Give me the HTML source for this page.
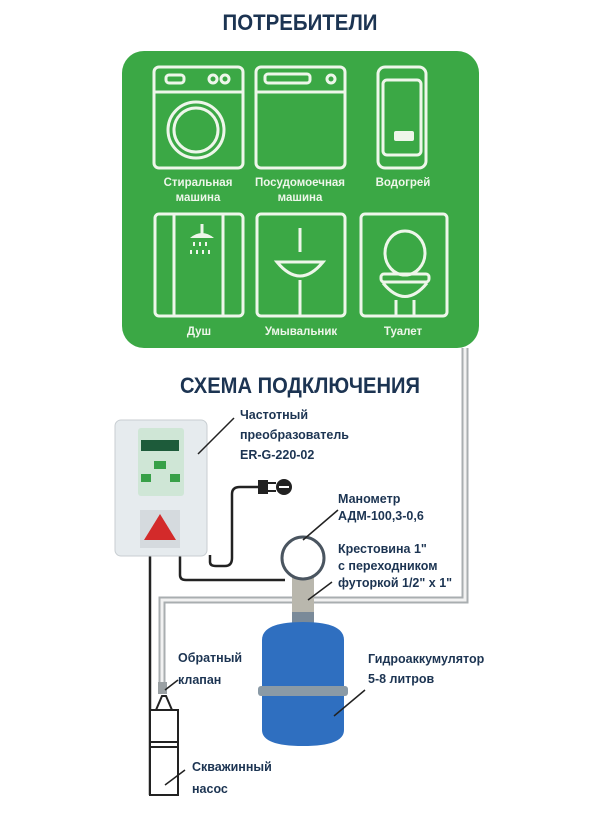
<!DOCTYPE html>
<html><head><meta charset="utf-8"><style>
body{margin:0;background:#fff;}
svg{display:block}
text{font-family:"Liberation Sans",sans-serif;font-weight:bold;}
</style></head><body>
<svg width="608" height="821" viewBox="0 0 608 821" xmlns="http://www.w3.org/2000/svg">
<rect width="608" height="821" fill="#fff"/>
<text x="300" y="30" text-anchor="middle" font-size="22" fill="#1c3452" textLength="155" lengthAdjust="spacingAndGlyphs">ПОТРЕБИТЕЛИ</text>
<rect x="122" y="51" width="357" height="297" rx="22" fill="#3ba845"/>
<g fill="none" stroke="#eef6ea" stroke-width="3">
<rect x="154" y="67" width="89" height="101" rx="5"/>
<line x1="154" y1="92" x2="243" y2="92"/>
<rect x="166" y="75" width="18" height="8" rx="3"/>
<circle cx="213" cy="79" r="4"/><circle cx="225" cy="79" r="4"/>
<circle cx="196" cy="130" r="28"/><circle cx="196" cy="130" r="22"/>
<rect x="256" y="67" width="89" height="101" rx="5"/>
<line x1="256" y1="92" x2="345" y2="92"/>
<rect x="265" y="74" width="45" height="9" rx="3"/>
<circle cx="331" cy="79" r="4"/>
<rect x="378" y="67" width="48" height="101" rx="7"/>
<rect x="383" y="80" width="38" height="75" rx="4"/>
<rect x="155" y="214" width="88" height="102" rx="4"/>
<line x1="174" y1="214" x2="174" y2="316"/><line x1="223" y1="214" x2="223" y2="316"/>
<rect x="257" y="214" width="88" height="102" rx="4"/>
<path d="M277 262 Q300 290 323 262 Z"/>
<line x1="300" y1="280" x2="300" y2="316"/>
<line x1="300" y1="228" x2="300" y2="252"/>
<rect x="361" y="214" width="86" height="102" rx="4"/>
<ellipse cx="405" cy="253" rx="20" ry="22"/>
<rect x="381" y="274" width="48" height="8" rx="3"/>
<path d="M383 283 Q405 310 427 283"/>
<line x1="396" y1="300" x2="396" y2="316"/><line x1="414" y1="300" x2="414" y2="316"/>
</g>
<rect x="394" y="131" width="20" height="10" rx="2" fill="#eef6ea"/>
<path d="M190 238 q12 -10 24 0 z" fill="#eef6ea"/>
<line x1="202" y1="224" x2="202" y2="238" stroke="#eef6ea" stroke-width="3"/>
<g fill="#eef6ea">
<rect x="193" y="242" width="2" height="4"/><rect x="199" y="242" width="2" height="4"/><rect x="205" y="242" width="2" height="4"/>
<rect x="190" y="250" width="2" height="4"/><rect x="196" y="250" width="2" height="4"/><rect x="202" y="250" width="2" height="4"/><rect x="208" y="250" width="2" height="4"/>
</g>
<g fill="#eef6ea" font-size="11.5" text-anchor="middle">
<text x="198" y="186">Стиральная</text><text x="198" y="201">машина</text>
<text x="300" y="186">Посудомоечная</text><text x="300" y="201">машина</text>
<text x="403" y="186">Водогрей</text>
<text x="199" y="335">Душ</text><text x="301" y="335">Умывальник</text><text x="403" y="335">Туалет</text>
</g>
<text x="300" y="393" text-anchor="middle" font-size="22" fill="#1c3452" textLength="240" lengthAdjust="spacingAndGlyphs">СХЕМА ПОДКЛЮЧЕНИЯ</text>
<g fill="none" stroke="#a9aeb0" stroke-width="7">
<path d="M465 348 V600 H162 V690"/>
</g>
<g fill="none" stroke="#f2f2f2" stroke-width="3">
<path d="M465 348 V600 H162 V690"/>
</g>
<g fill="none" stroke="#222" stroke-width="2.5">
<path d="M150 555 V795"/>
<path d="M180 555 V575 Q180 580 186 580 H285"/>
<path d="M210 555 V562 Q210 566 216 566 H225 Q232 566 232 558 V494 Q232 487 240 487 H258"/>
</g>
<path d="M258 480 h10 v14 h-10 z" fill="#222"/>
<line x1="268" y1="483" x2="276" y2="483" stroke="#222" stroke-width="2"/>
<line x1="268" y1="491" x2="276" y2="491" stroke="#222" stroke-width="2"/>
<circle cx="284" cy="487" r="8" fill="#222"/>
<line x1="279" y1="487" x2="289" y2="487" stroke="#fff" stroke-width="2"/>
<rect x="115" y="420" width="92" height="136" rx="6" fill="#e6ebee" stroke="#c8ced2"/>
<rect x="138" y="428" width="46" height="68" rx="3" fill="#cfe6d6"/>
<rect x="141" y="440" width="38" height="11" fill="#1d5b3a"/>
<rect x="154" y="461" width="12" height="8" fill="#38a048"/>
<rect x="141" y="474" width="10" height="8" fill="#38a048"/>
<rect x="170" y="474" width="10" height="8" fill="#38a048"/>
<rect x="140" y="510" width="40" height="38" fill="#d5dade"/>
<path d="M160 514 L176 540 L144 540 Z" fill="#d32a2a"/>
<rect x="292" y="575" width="22" height="38" fill="#b9b7ad"/>
<circle cx="303" cy="558" r="21" fill="#fff" stroke="#4a5560" stroke-width="3"/>
<rect x="292" y="612" width="22" height="12" fill="#7a8a99"/>
<path d="M262 640 Q262 622 303 622 Q344 622 344 640 V730 Q344 746 303 746 Q262 746 262 730 Z" fill="#2f6fc0"/>
<rect x="258" y="686" width="90" height="10" rx="3" fill="#8a9aa6"/>
<rect x="150" y="710" width="28" height="85" fill="#fff" stroke="#222" stroke-width="2"/>
<line x1="150" y1="742" x2="178" y2="742" stroke="#222" stroke-width="2"/>
<line x1="150" y1="747" x2="178" y2="747" stroke="#222" stroke-width="2"/>
<path d="M156 710 L162 696 L166 696 L172 710" fill="none" stroke="#222" stroke-width="2"/>
<rect x="158" y="682" width="9" height="12" fill="#9aa0a3"/>
<g stroke="#222" stroke-width="1.5">
<line x1="198" y1="454" x2="234" y2="418"/>
<line x1="303" y1="540" x2="338" y2="510"/>
<line x1="308" y1="600" x2="332" y2="582"/>
<line x1="334" y1="716" x2="365" y2="690"/>
<line x1="165" y1="690" x2="178" y2="680"/>
<line x1="165" y1="785" x2="185" y2="770"/>
</g>
<g fill="#1c3452" font-size="12.5">
<text x="240" y="419">Частотный</text><text x="240" y="439">преобразователь</text><text x="240" y="459">ER-G-220-02</text>
<text x="338" y="503">Манометр</text><text x="338" y="520">АДМ-100,3-0,6</text>
<text x="338" y="553">Крестовина 1"</text><text x="338" y="570">с переходником</text><text x="338" y="587">футоркой 1/2" х 1"</text>
<text x="368" y="663">Гидроаккумулятор</text><text x="368" y="683">5-8 литров</text>
<text x="178" y="662">Обратный</text><text x="178" y="684">клапан</text>
<text x="192" y="771">Скважинный</text><text x="192" y="793">насос</text>
</g>
</svg>
</body></html>
